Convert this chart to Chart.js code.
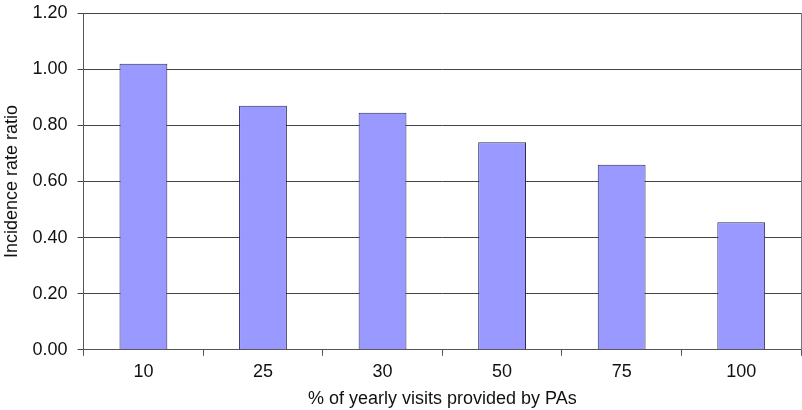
<!DOCTYPE html>
<html>
<head>
<meta charset="utf-8">
<script src="https://cdn.jsdelivr.net/npm/chart.js@4"></script>
<style>
  html, body { margin: 0; padding: 0; background: #fff; }
  #wrap { width: 802px; height: 410px; }
</style>
</head>
<body>
<div id="wrap"><canvas id="myCanvas" width="802" height="410"></canvas></div>
<script>
var categories = ["10", "25", "30", "50", "75", "100"];
var ratios = [1.02, 0.87, 0.845, 0.74, 0.66, 0.455];
var yTicks = [0, 0.2, 0.4, 0.6, 0.8, 1.0, 1.2];

Chart.defaults.font.family = "'Liberation Sans', Arial, sans-serif";
Chart.defaults.color = "#111";

var chartdata = {
    labels: categories,
    datasets: [
        {
            label: "Incidence rate ratio",
            backgroundColor: "#9999ff",
            borderColor: "#2a2a5a",
            borderWidth: 1,
            borderSkipped: "bottom",
            barPercentage: 0.4,
            categoryPercentage: 1.0,
            data: ratios,
        },
    ],
};

new Chart(document.getElementById("myCanvas"), {
    type: "bar",
    data: chartdata,
    options: {
        responsive: false,
        animation: false,
        layout: { padding: { top: 0, right: 1, left: 1, bottom: 0 } },
        plugins: { legend: { display: false }, tooltip: { enabled: false } },
        scales: {
            x: {
                grid: { drawOnChartArea: false, drawTicks: true, tickLength: 6, color: "#555", offset: true },
                border: { color: "#555", width: 1 },
                ticks: { font: { size: 18 }, padding: 5, color: "#111" },
                title: { display: true, text: "% of yearly visits provided by PAs", font: { size: 18 }, padding: { top: 1, bottom: 0 }, color: "#111" },
            },
            y: {
                min: 0,
                max: 1.2,
                afterBuildTicks: function (axis) {
                    axis.ticks = yTicks.map(function (v) { return { value: v }; });
                },
                grid: { color: "#444", lineWidth: 1, tickLength: 6 },
                border: { color: "#555", width: 1 },
                ticks: {
                    font: { size: 18, lineHeight: 0.35 },
                    padding: 10,
                    color: "#111",
                    callback: function (v) { return Number(v).toFixed(2); },
                },
                title: { display: true, text: "Incidence rate ratio", font: { size: 18 }, padding: { top: 0, bottom: 0 }, color: "#111" },
            },
            y2: {
                position: "right",
                min: 0,
                max: 1.2,
                grid: { drawOnChartArea: false, drawTicks: false },
                border: { color: "#777", width: 1 },
                ticks: { display: false },
            },
        },
    },
});
</script>
</body>
</html>
